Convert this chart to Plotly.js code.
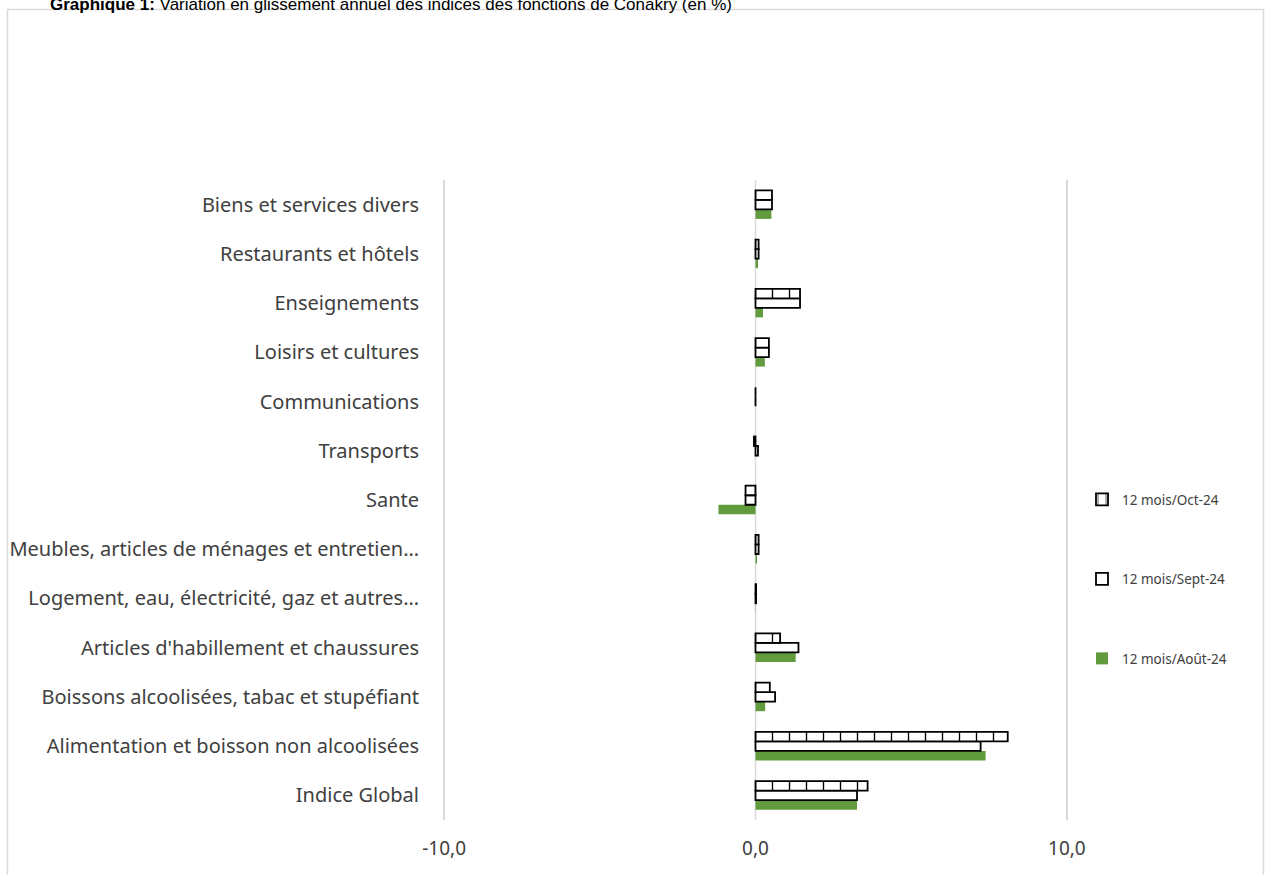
<!DOCTYPE html>
<html>
<head>
<meta charset="utf-8">
<script src="https://cdn.plot.ly/plotly-3.0.1.min.js"></script>
<style>
  html, body { margin: 0; padding: 0; background: #fff; }
  #chart { width: 1271px; height: 875px; }
</style>
</head>
<body>
<div id="chart"></div>
<script>
// Categories, bottom to top
const categories = [
  "Indice Global",
  "Alimentation et boisson non alcoolisées",
  "Boissons alcoolisées, tabac et stupéfiant",
  "Articles d'habillement et chaussures",
  "Logement, eau, électricité, gaz et autres…",
  "Meubles, articles de ménages et entretien…",
  "Sante",
  "Transports",
  "Communications",
  "Loisirs et cultures",
  "Enseignements",
  "Restaurants et hôtels",
  "Biens et services divers"
];
const seriesNames = ["12 mois/Août-24", "12 mois/Sept-24", "12 mois/Oct-24"];
const valuesAout = [3.26, 7.39, 0.31, 1.29, 0.01, 0.05, -1.19, 0.00, 0.00, 0.30, 0.24, 0.08, 0.51];
const valuesSept = [3.26, 7.23, 0.63, 1.38, 0.02, 0.10, -0.32, 0.08, 0.00, 0.43, 1.43, 0.10, 0.53];
const valuesOct  = [3.60, 8.10, 0.46, 0.79, 0.02, 0.10, -0.32, -0.05, 0.00, 0.43, 1.43, 0.10, 0.53];
const xTickVals = [-10, 0, 10];
const xTickText = ["-10,0", "0,0", "10,0"];
const titleBold = "Graphique 1:";
const titleRest = " Variation en glissement annuel des indices des fonctions de Conakry (en %)";

const FONT = "Noto Sans, Open Sans, sans-serif";

const traces = [
  {
    type: "bar", orientation: "h", name: seriesNames[0],
    y: categories, x: valuesAout, legendrank: 3, legendgroup: "g3",
    marker: { color: "#629B3E", line: { width: 0 } },
    hoverinfo: "x+name"
  },
  {
    type: "bar", orientation: "h", name: seriesNames[1],
    y: categories, x: valuesSept, legendrank: 2, legendgroup: "g2",
    marker: { color: "#ffffff", line: { color: "#000000", width: 1.8 } },
    hoverinfo: "x+name"
  },
  {
    type: "bar", orientation: "h", name: seriesNames[2],
    y: categories, x: valuesOct, legendrank: 1, legendgroup: "g1",
    marker: {
      color: "#ffffff",
      line: { color: "#000000", width: 1.8 },
      pattern: { shape: "|", fgcolor: "#000000", bgcolor: "#ffffff", size: 17, solidity: 0.08 }
    },
    hoverinfo: "x+name"
  }
];

// plot area in pixels (grid at -10 -> 444px, +10 -> 1067px, extended by 0.1 unit each side)
const L = 441, R = 1070, T = 180, B = 820;
const pw = R - L, ph = B - T;
const px = v => (v - L) / pw;
const py = v => (B - v) / ph;

const layout = {
  width: 1271, height: 875,
  margin: { l: L, r: 1271 - R, t: T, b: 875 - B, pad: 0 },
  paper_bgcolor: "#ffffff", plot_bgcolor: "#ffffff",
  font: { family: FONT, color: "#404040" },
  barmode: "group", bargap: 0.42, bargroupgap: 0,
  showlegend: true,
  legend: {
    x: px(1082), xanchor: "left", y: py(484), yanchor: "top",
    traceorder: "grouped", tracegroupgap: 59,
    font: { family: FONT, size: 13.5, color: "#404040" },
    bgcolor: "rgba(0,0,0,0)", itemwidth: 30
  },
  xaxis: {
    range: [-10.1, 10.1],
    tickmode: "array", tickvals: xTickVals, ticktext: xTickText,
    showgrid: true, gridcolor: "#d9d9d9", gridwidth: 1.5,
    zeroline: false,
    showline: false, ticks: "",
    ticklabelstandoff: 15,
    tickfont: { family: FONT, size: 19, color: "#404040" },
    fixedrange: true
  },
  yaxis: {
    type: "category", categoryorder: "array", categoryarray: categories,
    showgrid: false, zeroline: false, showline: false, ticks: "",
    ticklabelstandoff: 21,
    tickfont: { family: FONT, size: 20, color: "#404040" },
    automargin: false, fixedrange: true
  },
  annotations: [
    {
      xref: "paper", yref: "paper", x: px(48), y: py(4),
      xanchor: "left", yanchor: "middle", showarrow: false,
      text: "<b>" + titleBold + "</b>" + titleRest,
      font: { family: "Liberation Sans, Arial, sans-serif", size: 17, color: "#000000" }
    }
  ],
  shapes: [
    {
      type: "line", xref: "x", yref: "paper", x0: 0, x1: 0, y0: 0, y1: 1,
      line: { color: "#d9d9d9", width: 1.5 }, layer: "below"
    },
    {
      type: "rect", xref: "paper", yref: "paper",
      x0: px(7.5), x1: px(1263.5), y0: py(900), y1: py(9.5),
      line: { color: "#d9d9d9", width: 1.5 }, fillcolor: "rgba(0,0,0,0)", layer: "above"
    }
  ]
};

Plotly.newPlot("chart", traces, layout, { displayModeBar: false, staticPlot: true });
</script>
</body>
</html>
